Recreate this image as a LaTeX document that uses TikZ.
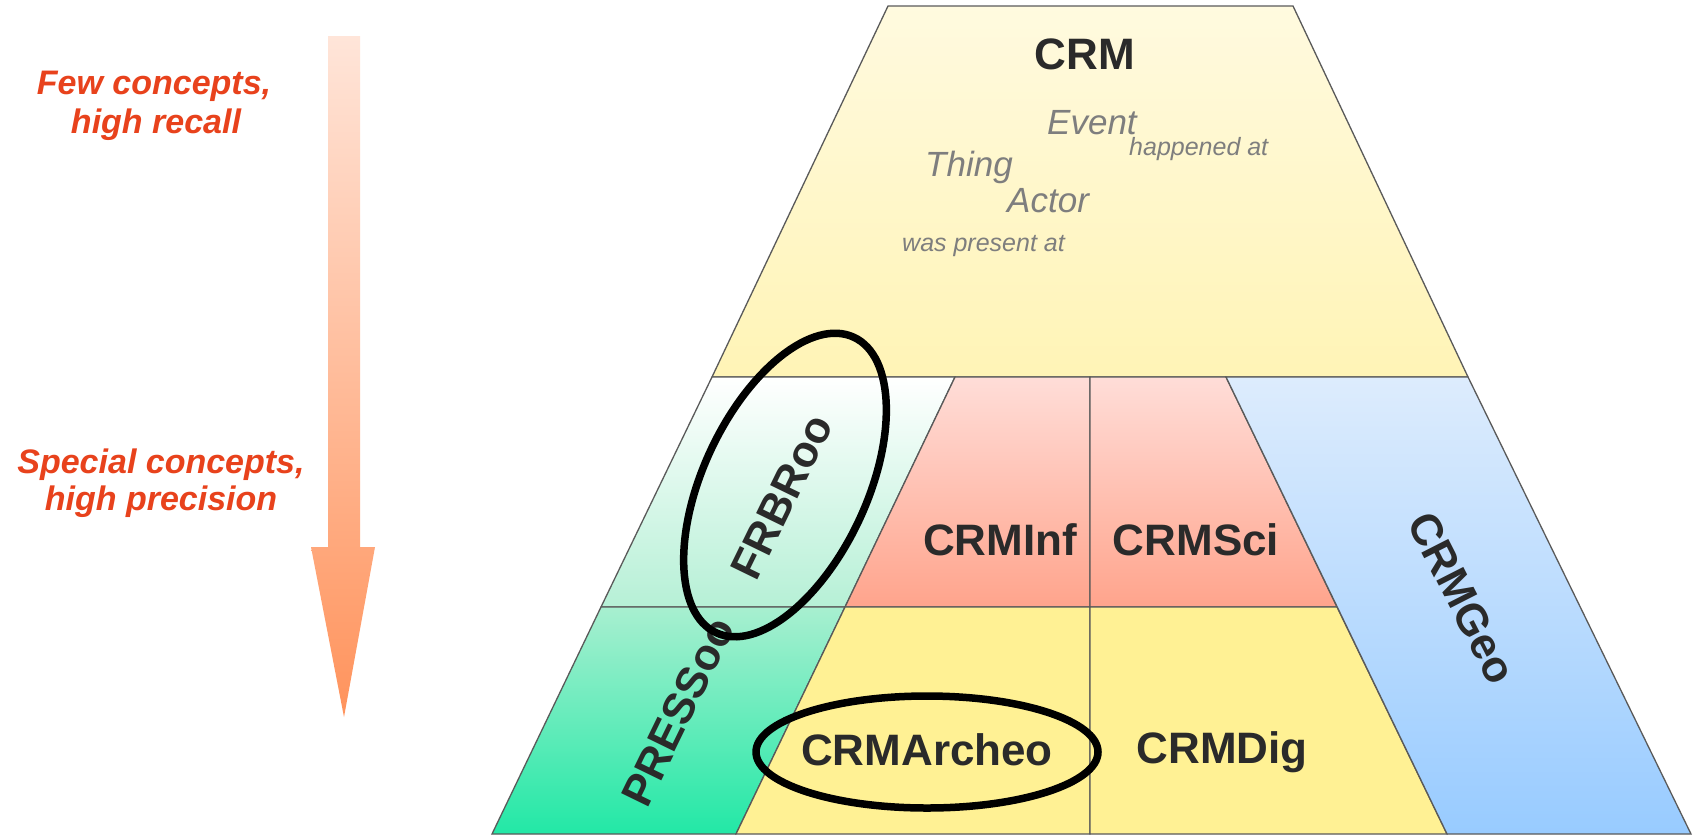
\documentclass[tikz,border=0pt]{standalone}
\usepackage{fontspec}
\setmainfont{Liberation Sans}
\usetikzlibrary{shapes.geometric}
\definecolor{edgegray}{HTML}{5A5A5A}
\definecolor{lblgray}{HTML}{2A2A2A}
\definecolor{conceptgray}{HTML}{7E7E7E}
\definecolor{notered}{HTML}{E8421C}
\definecolor{crmtop}{HTML}{FFFADF}
\definecolor{crmbot}{HTML}{FFF4B6}
\definecolor{frbtop}{HTML}{FFFFFF}
\definecolor{frbbot}{HTML}{B6F0D6}
\definecolor{prstop}{HTML}{A8EFD0}
\definecolor{prsbot}{HTML}{22E8A6}
\definecolor{redtop}{HTML}{FFDDD8}
\definecolor{redbot}{HTML}{FFA48C}
\definecolor{yel}{HTML}{FFF194}
\definecolor{geotop}{HTML}{DDECFD}
\definecolor{geobot}{HTML}{98CBFF}
\definecolor{arrtop}{HTML}{FFE5D9}
\definecolor{arrbot}{HTML}{FF935C}
\begin{document}
\begin{tikzpicture}[x=1pt,y=-1pt,
  region/.style={draw=edgegray, line width=1.3pt, line join=miter},
  lbl/.style={text=lblgray, font=\fontsize{44}{48}\selectfont\bfseries, inner sep=0pt},
  concept/.style={text=conceptgray, font=\fontsize{35}{40}\selectfont\itshape, inner sep=0pt, anchor=base west},
  relation/.style={text=conceptgray, font=\fontsize{25}{28}\selectfont\itshape, inner sep=0pt, anchor=base west},
  note/.style={text=notered, font=\fontsize{34}{40}\selectfont\bfseries\itshape, inner sep=0pt, anchor=base},
  ring/.style={draw=black, line width=7.5pt, ellipse, inner sep=0pt}]
\useasboundingbox (0,0) rectangle (1696,836);
\fill[white] (0,0) rectangle (1696,836);

% arrow
\shade[top color=arrtop, bottom color=arrbot]
  (328,36) -- (360,36) -- (360,547) -- (375,547) -- (344,717) -- (311,547) -- (328,547) -- cycle;

% notes
\node[note] (few1) at (154,94) {Few concepts,};
\node[note] (few2) at (156,133) {high recall};
\node[note] (spc1) at (161,473) {Special concepts,};
\node[note] (spc2) at (161,510) {high precision};

% regions
\shade[region, top color=crmtop, bottom color=crmbot]
  (888,6) -- (1293,6) -- (1468,377) -- (712,377) -- cycle;
\shade[region, top color=frbtop, bottom color=frbbot]
  (712,377) -- (955,377) -- (845,607) -- (601,607) -- cycle;
\shade[region, top color=prstop, bottom color=prsbot]
  (601,607) -- (845,607) -- (736,834) -- (492,834) -- cycle;
\shade[region, top color=redtop, bottom color=redbot]
  (955,377) -- (1090,377) -- (1090,607) -- (845,607) -- cycle;
\shade[region, top color=redtop, bottom color=redbot]
  (1090,377) -- (1226,377) -- (1337,607) -- (1090,607) -- cycle;
\fill[region, fill=yel]
  (845,607) -- (1090,607) -- (1090,834) -- (736,834) -- cycle;
\fill[region, fill=yel]
  (1090,607) -- (1337,607) -- (1447,834) -- (1090,834) -- cycle;
\shade[region, top color=geotop, bottom color=geobot]
  (1226,377) -- (1468,377) -- (1691,834) -- (1447,834) -- cycle;

% CRM texts
\node[lbl, anchor=base] (crm) at (1085,69) {CRM};
\node[concept] (event) at (1047,134) {Event};
\node[relation] (happ) at (1129,155) {happened at};
\node[concept] (thing) at (925,176) {Thing};
\node[concept] (actor) at (1007,212) {Actor};
\node[relation] (waspr) at (902,251) {was present at};

% labels
\node[lbl, anchor=base] (inf) at (1000,555) {CRMInf};
\node[lbl, anchor=base] (sci) at (1196,555) {CRMSci};
\node[lbl, anchor=base] (arch) at (927,765) {CRMArcheo};
\node[lbl, anchor=base] (dig) at (1222,763) {CRMDig};
\node[lbl, rotate=64] (frbr) at (782,497) {FRBRoo};
\node[lbl, rotate=64] (press) at (678,712) {PRESSoo};
\node[lbl, rotate=-63] (geo) at (1462,598) {CRMGeo};

% highlight rings
\node[ring, minimum width=326pt, minimum height=164pt, rotate=65] (frbring) at (785,485) {};
\node[ring, minimum width=342pt, minimum height=112pt] (archring) at (927,752) {};
\end{tikzpicture}
\end{document}
